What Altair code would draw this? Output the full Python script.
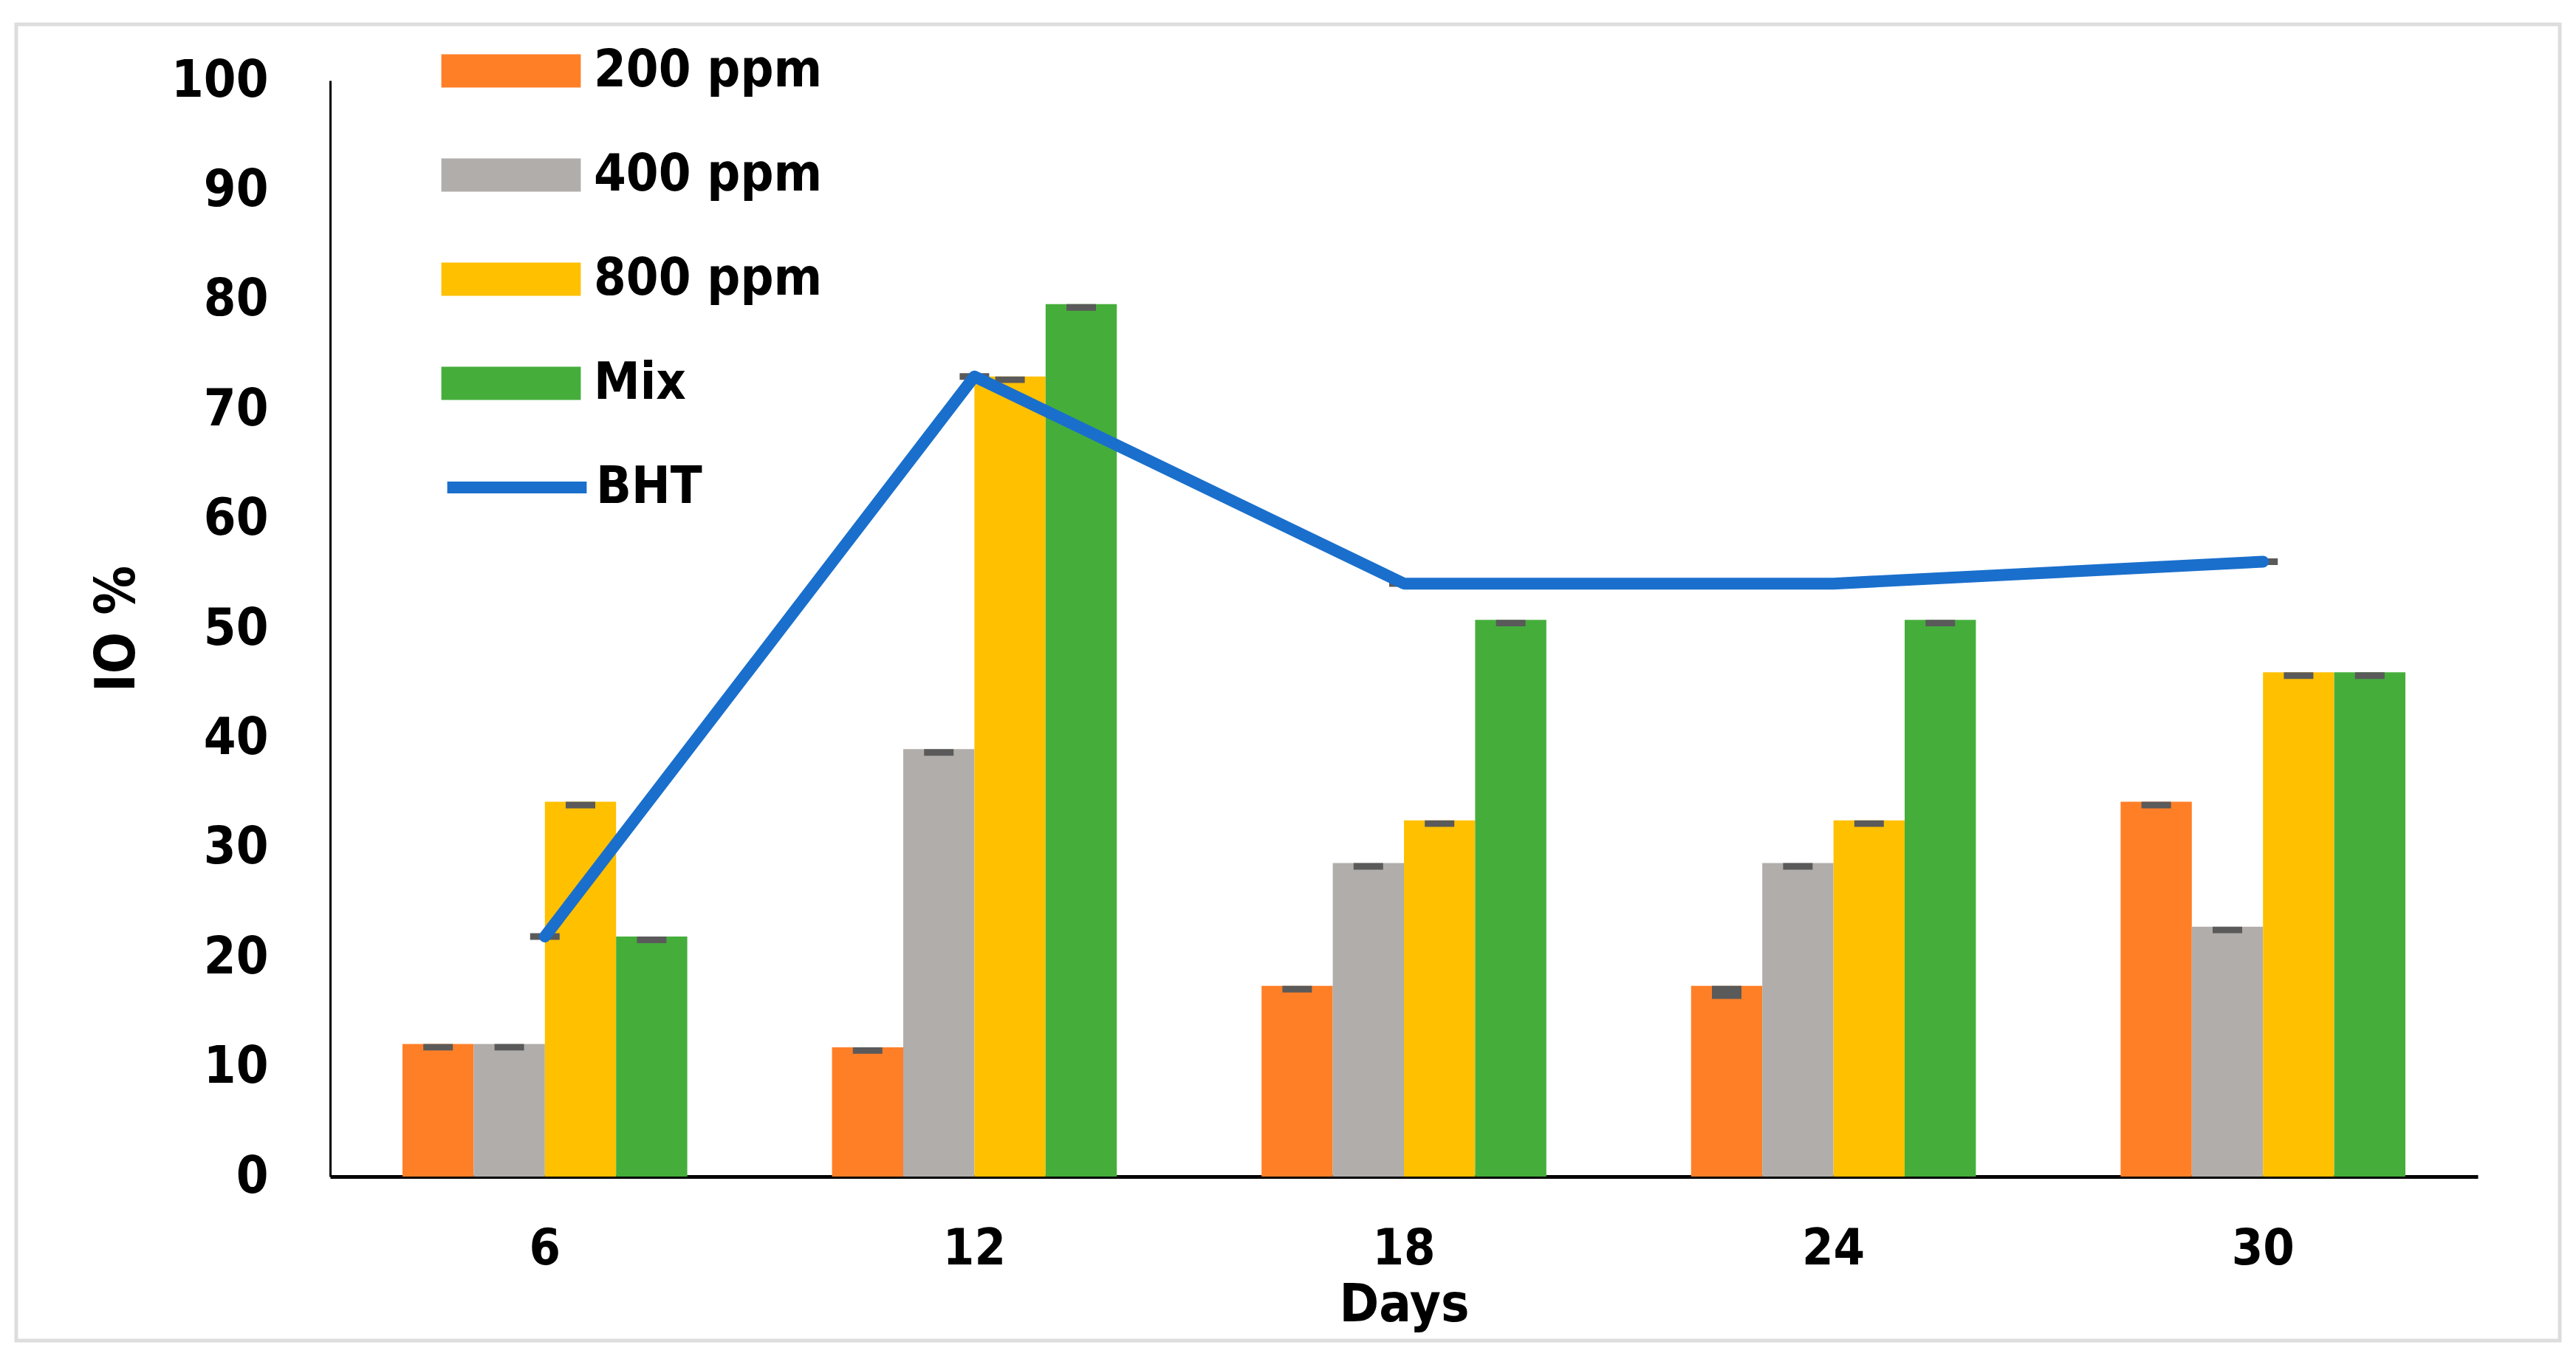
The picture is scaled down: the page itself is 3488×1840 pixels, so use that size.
import altair as alt
import pandas as pd

# ---- data ----
days = ["6", "12", "18", "24", "30"]
series = ["200 ppm", "400 ppm", "800 ppm", "Mix"]
v200 = [12.1, 11.8, 17.4, 17.4, 34.2]
v400 = [12.1, 39.0, 28.6, 28.6, 22.8]
v800 = [34.2, 73.0, 32.5, 32.5, 46.0]
vmix = [21.9, 79.6, 50.8, 50.8, 46.0]
e200 = [0.3, 0.3, 0.3, 0.6, 0.3]
e400 = [0.3, 0.3, 0.3, 0.3, 0.3]
e800 = [0.3, 0.3, 0.3, 0.3, 0.3]
emix = [0.3, 0.3, 0.3, 0.3, 0.3]
bht = [21.9, 73.0, 54.1, 54.1, 56.1]
ebht = [0.3, 0.3, 0.3, 0.3, 0.3]

bar_colors = ["#FF7F27", "#B1ADAA", "#FFC000", "#45AE3B"]
line_color = "#1A6FCC"
cap_color = "#5A5A5A"
FONT = "DejaVu Sans Condensed, DejaVu Sans, sans-serif"

rows = []
for s, vals, errs in zip(series, [v200, v400, v800, vmix], [e200, e400, e800, emix]):
    for d, v, e in zip(days, vals, errs):
        rows.append({"day": d, "series": s, "value": v, "lo": v - 2 * e, "hi": v})
bars_df = pd.DataFrame(rows)
line_df = pd.DataFrame({"day": days, "series": ["BHT"] * len(days), "value": bht,
                        "lo": [v - e for v, e in zip(bht, ebht)],
                        "hi": [v + e for v, e in zip(bht, ebht)]})

x_enc = alt.X("day:N", sort=days, scale=alt.Scale(paddingInner=0.337, paddingOuter=0.1685),
              axis=alt.Axis(title="Days", labelAngle=0, ticks=False, tickSize=0, grid=False,
                            domainColor="black", domainWidth=5, labelFontSize=68,
                            labelFontWeight="bold", labelFont=FONT, labelColor="black",
                            labelPadding=64, titleFontSize=72, titleFont=FONT,
                            titleFontWeight="bold", titleColor="black", titlePadding=6))
y_scale = alt.Scale(domain=[0, 100], nice=False)
y_axis = alt.Axis(title="IO %", values=list(range(0, 101, 10)), ticks=False, tickSize=0,
                  grid=False, domainColor="black", domainWidth=3, labelFontSize=70,
                  labelFontWeight="bold", labelFont=FONT, labelColor="black", labelPadding=84,
                  titleFontSize=74, titleFont=FONT, titleFontWeight="bold", titleColor="black",
                  titlePadding=50)
xoff = alt.XOffset("series:N", sort=series, scale=alt.Scale(domain=series))

bars = alt.Chart(bars_df).mark_bar().encode(
    x=x_enc,
    xOffset=xoff,
    y=alt.Y("value:Q", scale=y_scale, axis=y_axis),
    color=alt.Color("series:N", sort=series,
                    scale=alt.Scale(domain=series, range=bar_colors),
                    legend=alt.Legend(title=None, orient="none", legendX=205, legendY=-53,
                                      symbolType="M-2.36,-0.56H2.36V0.56H-2.36Z",
                                      symbolSize=6400, symbolStrokeWidth=0, symbolOpacity=1,
                                      labelOffset=72, rowPadding=66, labelFontSize=70,
                                      labelFontWeight="bold", labelFont=FONT,
                                      labelColor="black", labelLimit=700, padding=0)),
)

caps = alt.Chart(bars_df).mark_rule(color=cap_color, strokeWidth=40, strokeCap="butt").encode(
    x=alt.X("day:N", sort=days),
    xOffset=xoff,
    y=alt.Y("lo:Q", scale=y_scale),
    y2="hi:Q",
)

bht_caps = alt.Chart(line_df).mark_rule(color=cap_color, strokeWidth=40, strokeCap="butt").encode(
    x=alt.X("day:N", sort=days),
    y=alt.Y("lo:Q", scale=y_scale),
    y2="hi:Q",
)

line = alt.Chart(line_df).mark_line(strokeWidth=16, strokeCap="round", strokeJoin="round").encode(
    x=alt.X("day:N", sort=days),
    y=alt.Y("value:Q", scale=y_scale),
    stroke=alt.Stroke("series:N", scale=alt.Scale(domain=["BHT"], range=[line_color]),
                      legend=alt.Legend(title=None, orient="none", legendX=205, legendY=503,
                                        symbolType="M-2.36,0H2.36", symbolSize=6400,
                                        symbolStrokeWidth=16, labelOffset=59,
                                        labelFontSize=70, labelFontWeight="bold",
                                        labelFont=FONT, labelColor="black", padding=0)),
)

frame = alt.Chart(pd.DataFrame({"k": [0]})).mark_rect(
    fill="transparent", stroke="#DDDDDD", strokeWidth=5
).encode(x=alt.value(-425), x2=alt.value(3019), y=alt.value(-76), y2=alt.value(1706))

chart = alt.layer(frame, bars, caps, bht_caps, line).properties(
    width=2908, height=1484,
    background="white",
    autosize=alt.AutoSizeParams(type="none"),
    padding={"left": 439, "top": 101, "right": 125, "bottom": 239},
).configure_view(strokeWidth=0)

chart.save("out.html", embed_options={"renderer": "svg", "actions": False})
